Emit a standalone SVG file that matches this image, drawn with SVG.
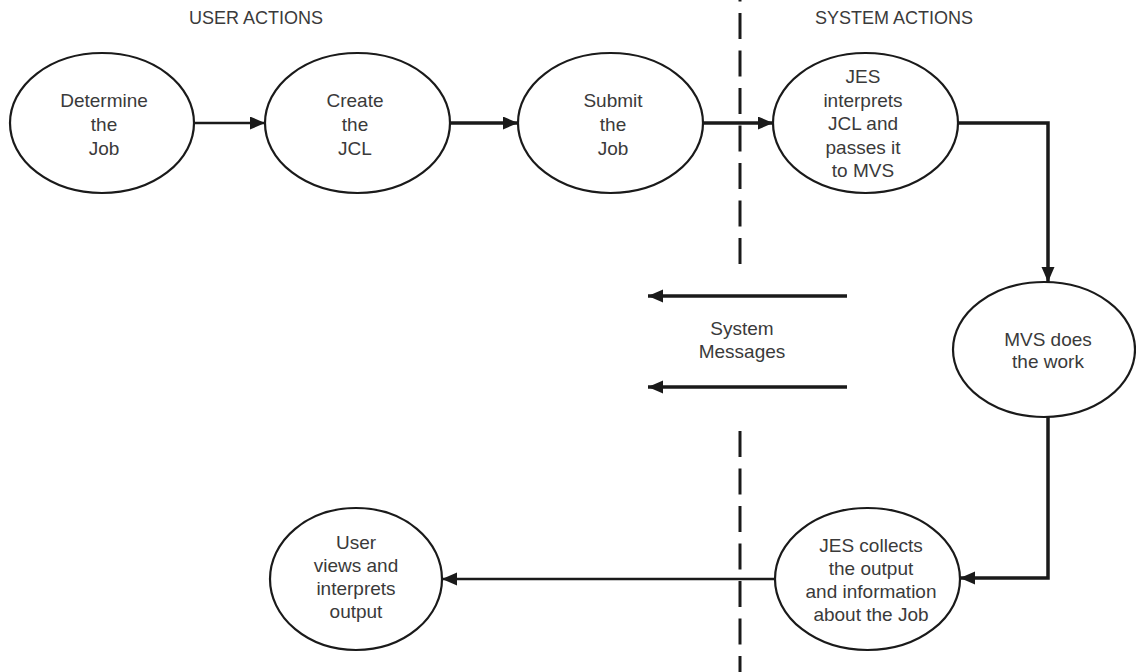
<svg xmlns="http://www.w3.org/2000/svg" width="1136" height="672" viewBox="0 0 1136 672">
<style>
.node ellipse{fill:#fff;stroke:#1a1a1a;stroke-width:2.2}
.t{font-family:"Liberation Sans",Arial,sans-serif;font-size:19px;fill:#3a3a3a;text-anchor:middle}
.h{font-family:"Liberation Sans",Arial,sans-serif;font-size:18px;fill:#3a3a3a;text-anchor:middle}
.c{fill:none;stroke:#1a1a1a;stroke-width:3.5}
.thin{stroke-width:2.5}
.dash{stroke:#1a1a1a;stroke-width:3;stroke-dasharray:26 11.5}
</style>
<defs>
<marker id="ah" markerUnits="userSpaceOnUse" markerWidth="16" markerHeight="14" refX="15" refY="6.5" orient="auto">
<path d="M0,0 L15,6.5 L0,13 z" fill="#1a1a1a"/>
</marker>
</defs>
<rect width="1136" height="672" fill="#fff"/>
<g id="divider">
<line class="dash" x1="740" y1="-24.5" x2="740" y2="264"/>
<line class="dash" x1="740" y1="431" x2="740" y2="690"/>
</g>
<g id="titles">
<text class="h" x="256" y="24">USER ACTIONS</text>
<text class="h" x="894" y="24">SYSTEM ACTIONS</text>
</g>
<g id="connectors">
<path class="c thin" d="M195,123 H265" marker-end="url(#ah)"/>
<path class="c" d="M450,123 H518" marker-end="url(#ah)"/>
<path class="c" d="M703,123 H773" marker-end="url(#ah)"/>
<path class="c" d="M958,123 H1048 V282" marker-end="url(#ah)"/>
<path class="c" d="M1048,417 V578 H960" marker-end="url(#ah)"/>
<path class="c thin" d="M775,579 H442" marker-end="url(#ah)"/>
<path class="c" d="M847,296 H648" marker-end="url(#ah)"/>
<path class="c" d="M847,387 H648" marker-end="url(#ah)"/>
</g>
<g id="system-messages">
<text class="t" x="742" y="335">System</text>
<text class="t" x="742" y="358">Messages</text>
</g>
<g id="n1" class="node">
<ellipse cx="102" cy="123" rx="92" ry="70"/>
<text class="t" x="104" y="107">Determine</text>
<text class="t" x="104" y="131">the</text>
<text class="t" x="104" y="155">Job</text>
</g>
<g id="n2" class="node">
<ellipse cx="357.5" cy="123" rx="92.5" ry="70"/>
<text class="t" x="355" y="107">Create</text>
<text class="t" x="355" y="131">the</text>
<text class="t" x="355" y="155">JCL</text>
</g>
<g id="n3" class="node">
<ellipse cx="610.5" cy="123" rx="92.5" ry="70"/>
<text class="t" x="613" y="107">Submit</text>
<text class="t" x="613" y="131">the</text>
<text class="t" x="613" y="155">Job</text>
</g>
<g id="n4" class="node">
<ellipse cx="865.5" cy="123" rx="92.5" ry="70"/>
<text class="t" x="863" y="83">JES</text>
<text class="t" x="863" y="106.5">interprets</text>
<text class="t" x="863" y="130">JCL and</text>
<text class="t" x="863" y="153.5">passes it</text>
<text class="t" x="863" y="177">to MVS</text>
</g>
<g id="n5" class="node">
<ellipse cx="1044" cy="349.5" rx="91" ry="67.5"/>
<text class="t" x="1048" y="346">MVS does</text>
<text class="t" x="1048" y="368">the work</text>
</g>
<g id="n6" class="node">
<ellipse cx="867.5" cy="579" rx="92.5" ry="71"/>
<text class="t" x="871" y="552">JES collects</text>
<text class="t" x="871" y="575">the output</text>
<text class="t" x="871" y="598">and information</text>
<text class="t" x="871" y="621">about the Job</text>
</g>
<g id="n7" class="node">
<ellipse cx="356" cy="579" rx="86" ry="71"/>
<text class="t" x="356" y="549">User</text>
<text class="t" x="356" y="572">views and</text>
<text class="t" x="356" y="595">interprets</text>
<text class="t" x="356" y="618">output</text>
</g>
</svg>
